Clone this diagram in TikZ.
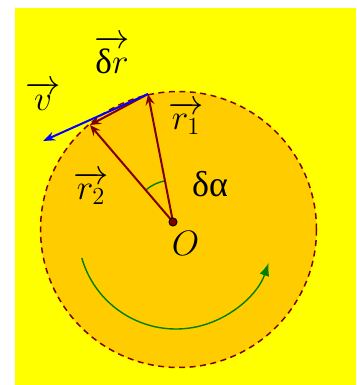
\documentclass[tikz,border=0pt]{standalone}
\usepackage{amsmath}
\usepackage{fontspec}
\newfontfamily\greekfont{Liberation Serif}
\usetikzlibrary{arrows.meta}
\definecolor{maroonc}{HTML}{800000}
\definecolor{bgyellow}{HTML}{FFFF00}
\definecolor{diskc}{HTML}{FFCC00}
\definecolor{greenc}{HTML}{008000}
\begin{document}
\begin{tikzpicture}[x=1pt,y=1pt,
  lbl/.style={font=\fontsize{20.74}{25}\selectfont, inner sep=0pt},
  mathlbl/.style={lbl, scale=1.7},
  vecarrow/.style={draw=maroonc, line width=2pt, -{Stealth[length=11pt,width=9pt,inset=4pt]}},
  bluearrow/.style={draw=blue, line width=2pt, -{Stealth[length=12pt,width=9pt,inset=4pt]}},
  greenarc/.style={draw=greenc, line width=1.4pt}]
\useasboundingbox (0,0) rectangle (356,385);
\fill[white] (0,0) rectangle (356,385);
\fill[bgyellow] (15,0) rectangle (356,377);
\coordinate (C) at (178.5,155.5);
\fill[diskc] (C) circle[radius=138];
\draw[maroonc, line width=1.5pt, dash pattern=on 6pt off 4.5pt] (C) circle[radius=138];
% rotation arc
\coordinate (G) at (81.8,127);
\draw[greenarc, -{Latex[length=13pt,width=10pt]}] (G) arc[start angle=196, end angle=341, radius=98];
% vectors
\coordinate (O) at (173,163);
\coordinate (A) at (148,291);
\coordinate (B) at (90,260);
\coordinate (V) at (43,244);
\coordinate (P) at (165,204.2);
\draw[greenarc] (P) arc[start angle=101, end angle=130, radius=42];
\draw[vecarrow] (O) -- (A);
\draw[vecarrow] (O) -- (B);
\draw[vecarrow] (A) -- (B);
\draw[bluearrow] (A) -- (V);
\node[circle, fill=maroonc, draw=black, line width=1pt, minimum size=8pt, inner sep=0pt] (Odot) at (O) {};
% labels
\node[mathlbl] (ldr) at (112,330) {$\overrightarrow{\text{\greekfont δ}r}$};
\node[mathlbl] (lv) at (43,289) {$\overrightarrow{v}$};
\node[mathlbl] (lr1) at (186,267) {$\overrightarrow{r_1}$};
\node[mathlbl] (lr2) at (91,197) {$\overrightarrow{r_2}$};
\node[lbl, font=\greekfont\fontsize{36}{40}\selectfont] (lda) at (210,201) {δα};
\node[mathlbl] (lO) at (185.5,142) {$O$};
\end{tikzpicture}
\end{document}
